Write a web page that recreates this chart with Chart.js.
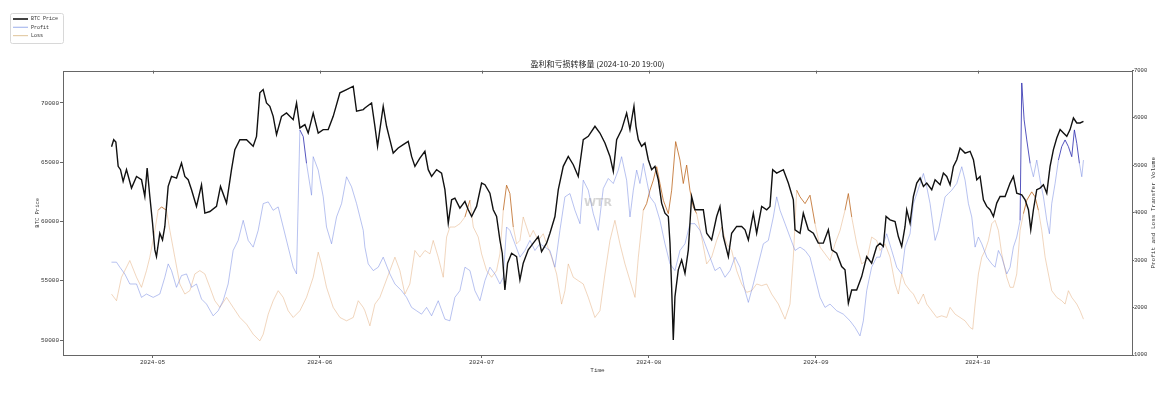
<!DOCTYPE html>
<html>
<head>
<meta charset="utf-8">
<script src="https://cdn.jsdelivr.net/npm/chart.js"></script>
<style>body{margin:0;background:#fff}</style>
</head>
<body>
<canvas id="myChart" width="1168" height="396" style="width:1168px;height:396px"></canvas>
<script>
// time axis: days since 2024-05-01 00:00
var monthDays = [0, 31, 61, 92, 123, 153];
var monthLabels = ['2024-05', '2024-06', '2024-07', '2024-08', '2024-09', '2024-10'];
var priceTicks = [50000, 55000, 60000, 65000, 70000];
var volumeTicks = [1000, 2000, 3000, 4000, 5000, 6000, 7000];

var priceDays = [-7.6,-7.2,-6.8,-6.37,-5.94,-5.45,-4.83,-3.9,-2.97,-2.04,-1.43,-1.0,-0.5,0,0.43,0.73,1.35,1.85,2.28,2.9,3.52,4.45,5.37,5.99,6.61,7.23,8.15,9.08,9.7,10.63,11.86,12.6,13.72,14.64,15.26,16.19,17.43,18.66,19.28,19.9,20.51,21.13,21.75,22.37,22.99,23.92,24.84,26.08,26.7,27.32,28.25,28.86,29.79,30.72,31.64,32.57,33.5,34.74,35.98,37.21,37.83,39.07,39.37,40.61,41.23,41.72,42.15,42.77,43.39,44.0,44.62,45.55,46.48,47.41,48.03,48.65,49.57,50.5,51.12,51.74,52.67,53.59,54.21,54.83,55.45,56.06,56.99,57.92,58.54,59.16,60.08,61.01,61.63,62.55,63.17,63.79,64.4,64.84,65.33,65.83,66.57,67.5,68.12,68.73,69.66,70.59,71.52,72.13,73.06,73.68,74.61,75.23,76.15,77.08,78.01,78.93,79.86,80.79,82.03,82.95,83.88,84.81,85.43,86.05,86.98,87.9,88.52,89.26,89.63,90.07,90.68,91.3,91.92,92.54,93.15,93.77,94.39,95.01,95.63,95.94,96.24,96.55,96.86,97.48,98.1,98.72,99.34,99.95,100.57,101.5,102.12,102.74,103.66,104.59,105.21,105.83,106.76,107.37,108.3,109.23,109.85,110.47,111.39,112.01,112.94,113.87,114.48,114.98,115.72,116.96,117.88,118.81,119.12,120.05,120.66,121.59,122.52,123.44,124.37,125.3,125.92,126.84,127.77,128.39,129.01,129.63,130.55,131.48,132.41,133.33,134.26,134.89,135.5,136.0,136.74,137.67,138.28,138.9,139.52,139.83,140.45,141.07,141.69,142.31,142.93,143.54,144.47,145.09,146.02,146.63,147.25,147.87,148.49,149.11,149.72,150.65,151.58,152.2,152.82,153.43,154.05,154.67,155.29,155.91,156.52,157.14,158.07,159.0,159.61,160.23,161.16,161.78,162.4,162.83,163.32,163.94,164.56,165.18,165.8,166.41,167.03,167.65,168.27,168.89,169.51,170.12,170.74,171.36,171.98,172.6];
var priceVals = [66300,66900,66700,64650,64370,63380,64370,62820,63800,63520,62110,64510,62110,59860,57600,57040,59010,58450,59580,62960,63800,63660,64930,63800,63520,62680,61270,63100,60700,60840,61270,62960,61550,64370,66060,66900,66900,66340,67180,70850,71130,70000,69720,68870,67320,68870,69150,68590,70000,67890,68170,67460,69150,67460,67750,67750,68870,70850,71130,71410,69300,69440,69580,70000,68030,66340,67750,69720,68030,66900,65770,66200,66480,66760,65490,64650,65350,65920,64370,63800,64370,64080,62680,59860,61830,61970,61130,61690,60990,60420,61270,63240,63100,62390,60990,60420,58450,57320,54220,56480,57320,57040,55070,56480,57610,58170,58730,57460,58170,59010,60420,62680,64650,65490,64790,63800,66900,67180,68030,67460,66620,65490,64230,66900,67750,69150,67750,69720,68030,66900,66340,66620,65210,64370,64650,63520,61550,60700,60420,58170,54510,50000,53660,55920,56760,55630,57610,62110,60990,60990,60990,59010,58450,60420,61270,58730,57040,59010,59580,59580,59300,58450,60700,59010,61270,60990,61270,64370,64080,64370,63240,61830,59300,59010,60700,59300,59010,58170,58170,59300,57610,57320,56200,55920,53100,54220,54220,55350,57040,56480,57890,58170,57890,60420,60140,60000,58730,57890,59580,60990,59860,62110,63240,63660,62960,63240,62680,63520,63100,64080,63800,63100,64650,65210,66200,65770,65920,65210,63520,63800,61830,61270,60990,60420,61550,62110,62110,63240,63800,62390,62250,61830,60990,59300,60990,62680,62820,63100,62390,64650,66060,67040,67750,67460,67180,67750,68730,68310,68310,68450];

var profitDays = [-7.61,-6.68,-6.06,-5.14,-4.21,-2.97,-2.05,-1.12,0.12,1.35,2.28,2.9,3.52,4.44,5.37,6.3,7.23,8.15,9.08,10.01,11.24,12.17,13.09,14.02,14.95,15.88,16.81,17.74,18.66,19.59,20.52,21.45,22.37,23.3,24.23,25.15,26.08,26.7,27.32,27.94,28.55,29.48,29.79,30.72,31.65,32.26,33.19,34.12,35.05,35.97,36.9,37.83,39.07,39.37,39.99,40.92,41.85,42.77,44.01,44.94,46.17,47.1,48.03,48.95,49.88,50.81,51.74,52.97,54.21,55.13,56.06,56.99,57.92,58.85,59.77,60.7,61.63,62.55,63.48,64.41,65.03,65.64,66.26,67.19,68.12,69.04,69.97,70.9,71.82,72.75,73.68,74.61,75.53,76.46,77.39,78.32,79.25,79.86,80.79,81.72,82.64,83.57,84.5,85.43,86.35,86.97,87.9,88.52,89.14,89.76,90.37,90.99,91.61,92.23,93.15,94.08,95.01,95.94,96.86,97.79,98.72,99.64,100.57,101.5,102.43,103.35,104.28,105.21,106.14,107.07,107.99,108.92,109.85,110.47,111.39,112.32,113.25,114.17,115.1,115.72,116.34,117.27,118.19,119.12,120.05,120.98,121.9,122.83,123.76,124.68,125.61,126.85,128.08,129.32,130.25,131.17,131.79,132.41,133.33,134.26,134.89,135.5,136.12,137.05,137.98,138.9,139.52,140.45,141.07,141.69,142.31,142.93,143.54,144.16,145.09,145.71,146.32,146.94,147.56,148.18,149.11,150.04,150.65,151.27,151.89,152.51,153.12,153.74,154.67,155.6,156.21,156.83,157.45,158.38,159.0,159.61,160.23,160.85,161.16,161.6,162.09,162.71,163.32,163.94,164.56,165.18,165.8,166.29,166.72,167.34,167.96,168.57,169.19,169.81,170.43,170.92,171.36,171.85,172.29,172.6];
var profitVals = [2958,2958,2852,2710,2498,2498,2216,2286,2216,2286,2640,2922,2781,2428,2675,2710,2428,2498,2180,2074,1827,1933,2145,2498,3205,3417,3841,3417,3276,3629,4194,4230,4053,4124,3700,3276,2852,2710,5749,5608,5042,4371,5184,4901,4336,3700,3346,3912,4194,4760,4548,4194,3629,3276,2922,2781,2852,3064,2710,2498,2357,2216,2004,1933,1862,2004,1827,2145,1756,1721,2216,2357,2852,2781,2357,2145,2569,2852,2710,2498,2640,3700,3629,3346,3064,3205,3417,3205,3346,3276,3205,2852,3629,4336,4406,4053,3770,4689,4477,3982,3629,4512,4724,4618,4901,5184,4689,3912,4477,4901,4618,5042,4689,4336,4194,3841,3346,2922,2781,3205,3346,3770,3770,3629,3346,3064,2781,2852,2640,2781,3064,2852,2357,2110,2498,2922,3346,3417,3912,4336,4053,3770,3488,3205,3276,3205,3064,2640,2216,2004,2074,1933,1862,1721,1580,1403,1721,2357,2852,3064,3064,3346,3558,3205,2852,2710,3276,3558,4194,4406,4618,4830,4548,4194,3417,3629,3982,4336,4406,4477,4618,4972,4689,4194,3912,3276,3488,3346,3064,2922,2852,3205,3064,2710,2852,3276,3488,3841,6739,5961,5537,5042,4760,5113,4689,4336,3841,3558,4194,4618,5113,5396,5537,5396,5184,5749,5466,5042,4760,5113];

var lossDays = [-7.61,-6.68,-5.76,-4.21,-2.97,-2.05,-1.12,-0.5,0.43,1.04,1.66,2.59,3.21,4.13,5.06,5.99,6.92,7.85,8.77,9.7,10.63,11.55,12.48,13.72,14.95,16.19,17.43,18.66,19.9,20.52,21.45,22.37,23.3,24.23,25.15,26.08,27.32,28.55,29.79,30.72,31.33,32.26,33.5,34.74,35.97,37.21,38.14,39.07,39.37,40.3,41.23,42.15,43.08,44.01,44.94,45.86,46.79,47.71,48.64,49.57,50.5,51.43,52.04,52.97,53.9,54.52,55.13,56.06,56.99,57.92,58.85,59.47,60.39,61.01,61.94,62.86,63.79,64.41,65.03,65.64,66.26,66.88,67.5,68.12,68.73,69.35,69.97,70.59,71.52,72.44,73.06,73.99,74.92,75.84,76.46,77.08,78.01,78.93,79.86,80.79,82.02,82.95,83.88,84.81,85.73,86.66,87.59,88.52,89.45,90.07,90.99,91.61,92.23,92.85,93.47,94.08,94.7,95.63,96.25,96.99,97.79,98.41,99.03,99.64,100.26,100.88,101.81,102.74,103.66,104.59,105.52,106.45,107.37,108.3,109.23,110.15,111.08,112.01,112.93,113.86,114.79,116.03,117.27,118.19,118.81,119.43,120.05,120.98,121.9,122.83,123.76,124.68,125.61,126.54,127.47,128.39,129.01,129.63,130.56,131.48,132.41,133.33,134.26,134.89,135.81,136.74,137.67,138.28,138.9,139.52,140.45,141.07,141.99,142.92,143.54,144.47,145.4,146.32,147.25,147.87,148.8,149.72,150.65,151.58,152.07,152.51,153.12,153.74,154.36,154.98,155.6,156.21,156.83,157.45,158.38,159.0,159.61,160.23,160.85,161.47,162.09,163.01,163.63,164.25,164.87,165.49,166.1,166.72,167.65,168.57,169.19,169.81,170.43,171.36,171.98,172.6];
var lossVals = [2286,2145,2640,2993,2640,2428,2781,3064,3629,4053,4124,4053,3629,3064,2498,2286,2357,2710,2781,2710,2428,2145,2004,2216,2004,1792,1650,1438,1297,1438,1862,2145,2357,2216,1933,1792,1933,2216,2640,3170,2922,2428,2004,1792,1721,1792,2145,2004,1933,1615,2074,2216,2498,2781,3064,2781,2286,2498,3205,3064,3205,3134,3417,3064,2640,3488,3700,3700,3770,3912,4265,3700,3488,3134,2781,2640,2781,3134,4053,4583,4406,3700,3346,3417,3912,3700,3488,3629,3417,3558,3346,3064,2710,2074,2357,2922,2640,2569,2498,2216,1792,1933,2710,3417,3841,3346,2922,2569,2216,3064,4053,4194,4477,4689,4972,4618,4265,3982,4477,5502,5113,4618,5007,4477,4124,3982,3488,2922,3064,3417,3700,3346,3205,2781,2498,2322,2357,2498,2463,2498,2286,2074,1756,2074,3064,4477,4336,4194,4371,3770,3276,3134,2993,3346,3629,4053,4406,3912,3346,2922,2993,3488,3417,3205,3346,3064,2498,2286,2710,2498,2357,2286,2074,2286,2074,1933,1792,1827,1792,2004,1862,1792,1721,1580,1544,2074,2710,3064,3205,3417,3770,3841,3629,3134,2640,2428,2428,2710,3629,3982,4265,4442,4336,4053,3629,3064,2710,2357,2216,2145,2074,2357,2216,2074,1933,1756];

var profitHigh = 5050;
var lossHigh = 4000;

function pts(days, vals) {
  return days.map(function (d, i) { return { x: d, y: vals[i] }; });
}

var monoFont = '"Liberation Mono", "DejaVu Sans Mono", monospace';

var decor = {
  id: 'decor',
  afterDatasetsDraw: function (chart) {
    var a = chart.chartArea, c = chart.ctx, xs = chart.scales.x;
    c.save();
    c.fillStyle = 'rgba(150,150,150,0.4)';
    c.font = 'bold 11px "DejaVu Sans"';
    c.textAlign = 'center';
    c.textBaseline = 'middle';
    c.fillText('WTR', 598, 203);
    c.strokeStyle = '#666';
    c.lineWidth = 1;
    c.strokeRect(Math.round(a.left) + 0.5, Math.round(a.top) + 0.5, Math.round(a.right - a.left), Math.round(a.bottom - a.top));
    monthDays.forEach(function (d) {
      var px = Math.round(xs.getPixelForValue(d)) + 0.5;
      c.beginPath();
      c.moveTo(px, a.top);
      c.lineTo(px, a.top + 3);
      c.stroke();
    });
    // right axis title, reading upwards
    c.fillStyle = '#333';
    c.font = '6px ' + monoFont;
    c.translate(1153, (a.top + a.bottom) / 2);
    c.rotate(-Math.PI / 2);
    c.fillText('Profit and Loss Transfer Volume', 0, 0);
    c.restore();
  },
  afterDraw: function (chart) {
    var c = chart.ctx;
    c.save();
    c.strokeStyle = '#d8d8d8';
    c.lineWidth = 1;
    c.beginPath();
    c.roundRect(10.5, 13.5, 53, 30, 2);
    c.stroke();
    chart.data.datasets.forEach(function (ds, i) {
      var y = 19 + i * 8.3;
      c.strokeStyle = ds.legendColor;
      c.lineWidth = ds.borderWidth + 0.3;
      c.beginPath();
      c.moveTo(13, y);
      c.lineTo(28, y);
      c.stroke();
      c.fillStyle = '#333';
      c.font = '5px ' + monoFont;
      c.textBaseline = 'middle';
      c.fillText(ds.label, 31, y);
    });
    c.restore();
  }
};

function plain(v) { return String(v); }

var ctx = document.getElementById('myChart').getContext('2d');
var chart = new Chart(ctx, {
  type: 'line',
  data: {
    datasets: [{
      label: 'BTC Price',
      data: pts(priceDays, priceVals),
      yAxisID: 'y',
      borderColor: '#111',
      legendColor: '#222',
      borderWidth: 1.4,
      pointRadius: 0,
      tension: 0
    }, {
      label: 'Profit',
      data: pts(profitDays, profitVals),
      yAxisID: 'y1',
      borderColor: 'rgba(110,130,225,0.55)',
      legendColor: 'rgba(150,170,235,0.8)',
      borderWidth: 0.9,
      pointRadius: 0,
      tension: 0,
      segment: {
        borderColor: function (s) {
          return (s.p0.parsed.y + s.p1.parsed.y) / 2 > profitHigh ? 'rgba(45,45,175,0.9)' : undefined;
        }
      }
    }, {
      label: 'Loss',
      data: pts(lossDays, lossVals),
      yAxisID: 'y1',
      borderColor: 'rgba(225,165,110,0.5)',
      legendColor: 'rgba(225,200,160,0.9)',
      borderWidth: 0.9,
      pointRadius: 0,
      tension: 0,
      segment: {
        borderColor: function (s) {
          return (s.p0.parsed.y + s.p1.parsed.y) / 2 > lossHigh ? 'rgba(190,105,35,0.9)' : undefined;
        }
      }
    }]
  },
  options: {
    responsive: false,
    animation: false,
    devicePixelRatio: 1,
    layout: { padding: { left: 27, right: 0, top: 0, bottom: 0 } },
    plugins: {
      legend: { display: false },
      tooltip: { enabled: false },
      title: {
        display: true,
        text: '盈利和亏损转移量 (2024-10-20 19:00)',
        color: '#222',
        font: { family: '"Noto Sans CJK SC"', size: 8, weight: 'normal' },
        padding: { top: 59, bottom: 2 }
      }
    },
    scales: {
      x: {
        type: 'linear',
        min: -16.6,
        max: 181.6,
        afterBuildTicks: function (s) { s.ticks = monthDays.map(function (v) { return { value: v }; }); },
        afterFit: function (s) { s.height = 41; },
        ticks: {
          autoSkip: false, maxRotation: 0, padding: 1, color: '#333',
          font: { family: monoFont, size: 6 },
          callback: function (v) { return monthLabels[monthDays.indexOf(v)]; }
        },
        grid: { drawOnChartArea: false, tickLength: 3, color: '#666' },
        border: { display: false },
        title: { display: true, text: 'Time', color: '#333', font: { family: monoFont, size: 6 }, padding: { top: 0, bottom: 22 } }
      },
      y: {
        position: 'left',
        min: 48736,
        max: 72728,
        afterBuildTicks: function (s) { s.ticks = priceTicks.map(function (v) { return { value: v }; }); },
        afterFit: function (s) { s.width = 36; },
        ticks: { padding: 1, color: '#333', font: { family: monoFont, size: 6 }, callback: plain },
        grid: { drawOnChartArea: false, tickLength: 3, color: '#666' },
        border: { display: false },
        title: { display: true, text: 'BTC Price', color: '#333', font: { family: monoFont, size: 5.5 }, padding: { top: 7, bottom: 0 } }
      },
      y1: {
        position: 'right',
        min: 1000,
        max: 7000,
        afterBuildTicks: function (s) { s.ticks = volumeTicks.map(function (v) { return { value: v }; }); },
        afterFit: function (s) { s.width = 36; },
        ticks: { padding: 0, color: '#333', font: { family: monoFont, size: 5.5 }, callback: plain },
        grid: { drawOnChartArea: false, tickLength: 2, color: '#666' },
        border: { display: false }
      }
    }
  },
  plugins: [decor]
});
</script>
</body>
</html>
